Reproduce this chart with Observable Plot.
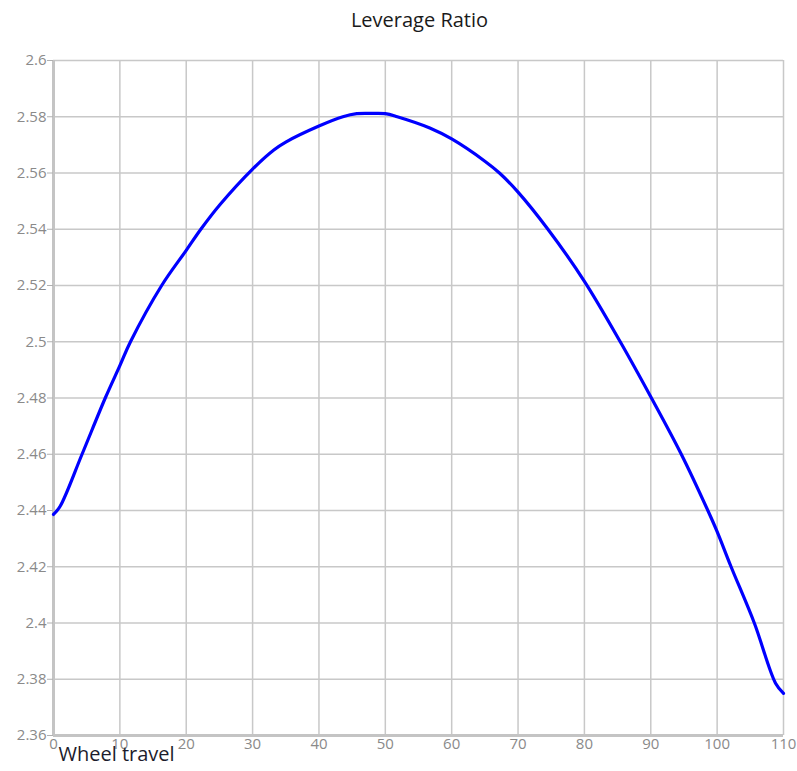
<!DOCTYPE html>
<html>
<head>
<meta charset="utf-8">
<script src="https://cdn.jsdelivr.net/npm/d3@7"></script>
<script src="https://cdn.jsdelivr.net/npm/@observablehq/plot@0.6"></script>
<style>
  html, body { margin: 0; padding: 0; background: #fff; }
  #wrap { position: relative; width: 797px; height: 771px; }
  #title { position: absolute; left: 21px; top: 6px; width: 797px; text-align: center;
           font-family: "Open Sans", sans-serif; font-size: 20px; color: #1a1a1a; }
</style>
</head>
<body>
<div id="wrap">
  <div id="title">Leverage Ratio</div>
  <div id="chart"></div>
</div>
<script>
const travel = [0, 1, 4.3, 7.8, 10, 11.6, 16.3, 20, 22.2, 25.1, 30, 33.2, 35, 40, 43.6, 45.7, 48, 50, 51.8, 56.7, 60, 65, 67.2, 70, 74.5, 80, 85.4, 90.1, 94.6, 98.6, 100, 102.1, 105.6, 108.8, 110];
const ratio  = [2.4386, 2.4415, 2.46, 2.48, 2.4915, 2.50, 2.52, 2.5325, 2.54, 2.5488, 2.5614, 2.5682, 2.571, 2.5767, 2.58, 2.5811, 2.5812, 2.5811, 2.58, 2.576, 2.5721, 2.5642, 2.56, 2.5532, 2.54, 2.5215, 2.50, 2.48, 2.46, 2.44, 2.4325, 2.42, 2.40, 2.3786, 2.375];
const xTicks = [0, 10, 20, 30, 40, 50, 60, 70, 80, 90, 100, 110];
const yTicks = [2.36, 2.38, 2.40, 2.42, 2.44, 2.46, 2.48, 2.50, 2.52, 2.54, 2.56, 2.58, 2.60];
const xLabel = "Wheel travel";

const data = travel.map((t, i) => ({travel: t, ratio: ratio[i]}));
const fmt = d => String(+d.toFixed(2));

const chart = Plot.plot({
  width: 797,
  height: 771,
  marginTop: 60,
  marginBottom: 36,
  marginLeft: 53,
  marginRight: 14,
  style: { fontFamily: "Open Sans, sans-serif", background: "#fff" },
  x: { domain: [0, 110] },
  y: { domain: [2.36, 2.6] },
  marks: [
    Plot.gridX(xTicks, { stroke: "#c8c8c8", strokeOpacity: 1, strokeWidth: 1.5 }),
    Plot.gridY(yTicks, { stroke: "#c8c8c8", strokeOpacity: 1, strokeWidth: 1.5 }),
    Plot.ruleX([0], { stroke: "#c4c4c4", strokeWidth: 3 }),
    Plot.ruleY([2.36], { stroke: "#c4c4c4", strokeWidth: 3 }),
    Plot.axisY(yTicks, { tickFormat: fmt, tickSize: 6, tickPadding: 1, fontSize: 15, color: "#8a8a8a", stroke: "#b0b0b0", label: null }),
    Plot.axisX(xTicks, { tickFormat: fmt, tickSize: 0, tickPadding: 3, fontSize: 15, color: "#8a8a8a", label: null }),
    Plot.line(data, { x: "travel", y: "ratio", stroke: "#0000ff", strokeWidth: 3.2, curve: "catmull-rom" }),
    Plot.text([xLabel], { frameAnchor: "bottom-left", dx: 5, dy: 25, textAnchor: "start", fontSize: 20, fill: "#1c1c2c", text: d => d })
  ]
});
document.getElementById("chart").appendChild(chart);
</script>
</body>
</html>
